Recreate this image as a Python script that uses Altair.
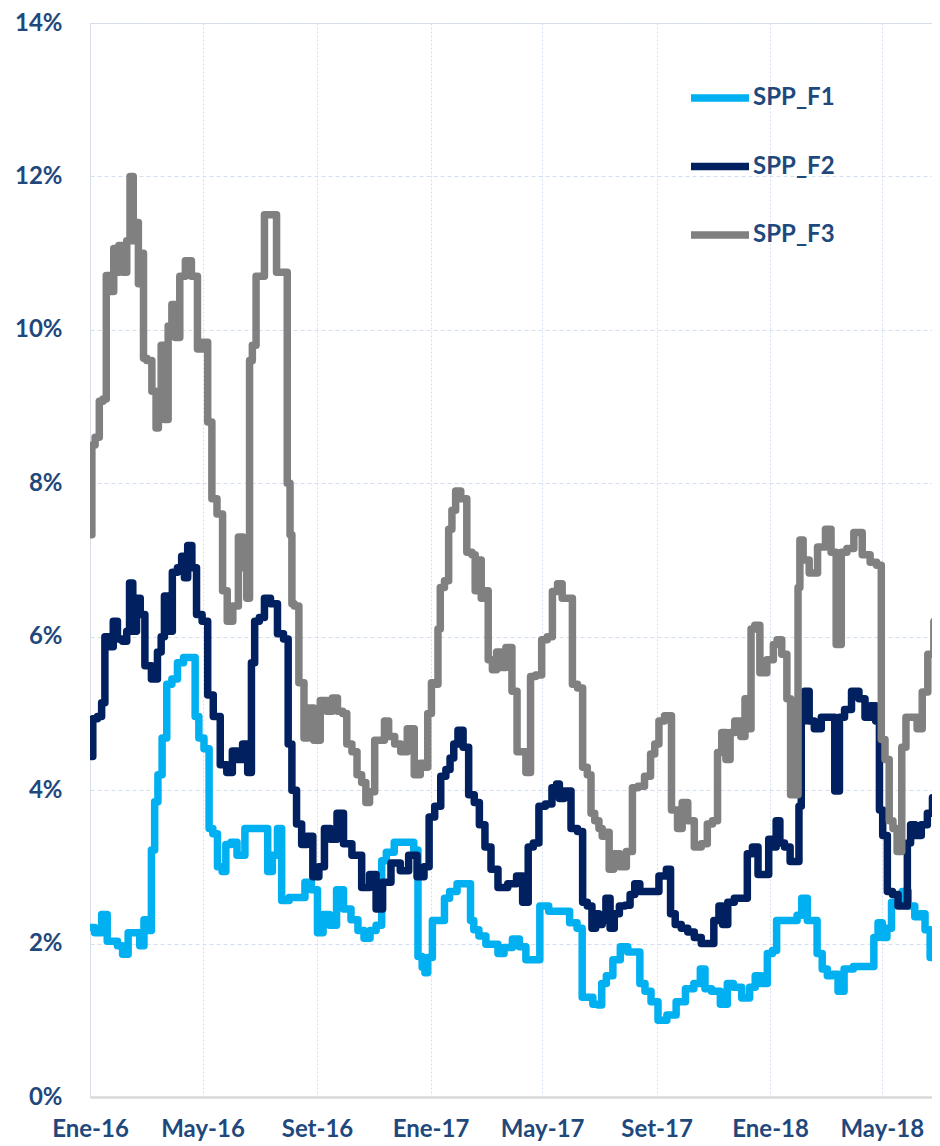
import altair as alt
import pandas as pd

# Series data: day offset from 2016-01-01 and value in %
f1_days = [1, 9, 16, 21, 27, 32, 38, 44, 51, 56, 60, 64, 68, 71, 75, 80, 85, 91, 97, 104, 111, 115, 119, 126, 130, 134, 140, 144, 148, 155, 161, 172, 183, 189, 193, 199, 204, 208, 220, 228, 234, 242, 247, 254, 261, 269, 276, 285, 291, 298, 304, 311, 316, 321, 333, 346, 350, 355, 359, 361, 365, 371, 378, 384, 389, 400, 408, 410, 415, 421, 430, 436, 441, 449, 459, 464, 473, 481, 486, 500, 511, 520, 527, 531, 537, 544, 548, 552, 558, 566, 574, 582, 589, 593, 600, 606, 615, 625, 635, 645, 653, 659, 663, 673, 682, 688, 695, 706, 712, 718, 725, 731, 736, 740, 748, 758, 762, 768, 774, 779, 784, 790, 795, 801, 807, 814, 827, 840, 845, 849, 854, 859, 864, 870, 876, 883, 890, 895, 900, 906, 911]
f1_vals = [2.21, 2.14, 2.38, 2.03, 2.03, 1.97, 1.86, 2.14, 2.14, 1.97, 2.31, 2.17, 3.22, 3.85, 4.2, 4.68, 5.38, 5.45, 5.66, 5.73, 5.73, 4.96, 4.68, 4.54, 3.5, 3.43, 3.0, 2.94, 3.29, 3.32, 3.15, 3.5, 3.5, 3.5, 2.94, 3.15, 3.5, 2.56, 2.6, 2.6, 2.8, 2.7, 2.14, 2.38, 2.24, 2.7, 2.45, 2.31, 2.17, 2.07, 2.17, 2.24, 3.08, 3.19, 3.32, 3.32, 3.22, 1.83, 1.69, 1.62, 1.82, 2.3, 2.3, 2.59, 2.68, 2.78, 2.78, 2.3, 2.18, 2.1, 1.99, 1.99, 1.87, 1.95, 2.06, 1.96, 1.79, 1.79, 2.49, 2.42, 2.42, 2.27, 2.2, 1.3, 1.3, 1.21, 1.2, 1.48, 1.58, 1.79, 1.96, 1.89, 1.89, 1.48, 1.38, 1.24, 1.0, 1.07, 1.24, 1.41, 1.48, 1.67, 1.41, 1.38, 1.21, 1.48, 1.43, 1.29, 1.43, 1.58, 1.48, 1.87, 1.91, 2.3, 2.3, 2.3, 2.37, 2.59, 2.3, 2.3, 1.87, 1.67, 1.58, 1.6, 1.38, 1.67, 1.7, 1.7, 2.08, 2.27, 2.08, 2.2, 2.54, 2.54, 2.68, 2.49, 2.35, 2.39, 2.18, 1.82, 2.06]

f2_days = [1, 5, 11, 14, 18, 23, 27, 32, 38, 41, 44, 48, 52, 56, 62, 70, 75, 78, 82, 86, 91, 97, 100, 103, 107, 112, 117, 124, 129, 136, 144, 150, 156, 161, 167, 172, 175, 179, 185, 190, 198, 205, 211, 215, 219, 225, 230, 236, 243, 249, 255, 262, 269, 276, 287, 297, 304, 311, 318, 329, 338, 347, 356, 362, 367, 374, 380, 385, 389, 393, 398, 404, 410, 416, 421, 428, 434, 443, 455, 462, 468, 474, 479, 486, 493, 500, 503, 506, 513, 521, 527, 532, 537, 542, 545, 549, 552, 557, 561, 566, 572, 578, 583, 588, 594, 606, 617, 622, 626, 632, 639, 646, 653, 661, 667, 674, 678, 682, 689, 696, 704, 709, 715, 721, 727, 732, 736, 739, 744, 749, 756, 761, 763, 766, 770, 776, 781, 791, 798, 803, 808, 814, 823, 830, 836, 842, 847, 850, 854, 860, 865, 872, 877, 880, 884, 890, 897, 903, 908, 913]
f2_vals = [4.44, 4.93, 4.96, 5.14, 6.0, 5.87, 6.2, 5.97, 5.94, 6.07, 6.7, 6.07, 6.5, 6.29, 5.62, 5.45, 5.8, 6.0, 6.53, 6.07, 6.84, 6.9, 7.05, 6.77, 7.19, 6.9, 6.29, 6.2, 5.24, 4.96, 4.33, 4.23, 4.51, 4.4, 4.6, 4.23, 5.66, 6.2, 6.25, 6.5, 6.43, 6.04, 5.97, 4.6, 4.0, 3.56, 3.29, 3.4, 2.87, 3.0, 3.5, 3.36, 3.7, 3.3, 3.15, 2.73, 2.9, 2.45, 2.8, 3.05, 2.95, 3.15, 2.87, 3.0, 3.65, 3.79, 4.18, 4.27, 4.42, 4.6, 4.78, 4.56, 3.94, 3.84, 3.55, 3.26, 2.97, 2.73, 2.78, 2.88, 2.54, 3.26, 3.31, 3.79, 3.82, 4.03, 4.08, 3.89, 3.99, 3.5, 3.46, 2.54, 2.49, 2.2, 2.39, 2.25, 2.3, 2.59, 2.2, 2.39, 2.49, 2.5, 2.64, 2.78, 2.68, 2.68, 2.88, 2.97, 2.39, 2.25, 2.2, 2.15, 2.08, 2.0, 2.0, 2.3, 2.49, 2.25, 2.54, 2.59, 2.59, 3.17, 3.26, 2.9, 2.9, 3.36, 3.26, 3.6, 3.31, 3.26, 3.07, 3.07, 3.79, 4.9, 5.29, 4.9, 4.8, 4.95, 4.95, 3.99, 4.95, 5.05, 5.29, 5.19, 4.95, 5.1, 4.9, 3.74, 3.41, 2.68, 2.64, 2.49, 2.49, 3.31, 3.55, 3.41, 3.55, 3.7, 3.9, 4.18]

f3_days = [1, 3, 8, 12, 16, 19, 24, 27, 30, 32, 38, 41, 45, 48, 51, 53, 56, 59, 63, 70, 72, 75, 78, 82, 86, 90, 93, 100, 105, 113, 118, 124, 129, 133, 140, 145, 150, 157, 162, 167, 170, 173, 176, 181, 185, 190, 198, 203, 210, 214, 216, 218, 221, 228, 232, 237, 244, 251, 258, 263, 269, 274, 278, 285, 289, 295, 298, 303, 309, 315, 318, 324, 331, 337, 345, 352, 358, 361, 365, 369, 373, 375, 378, 384, 387, 391, 395, 402, 408, 413, 415, 419, 422, 426, 430, 435, 439, 444, 450, 457, 461, 466, 471, 476, 482, 489, 494, 500, 505, 510, 516, 521, 527, 532, 537, 540, 545, 549, 552, 556, 560, 566, 573, 580, 586, 592, 600, 605, 609, 614, 621, 629, 634, 639, 646, 653, 661, 666, 672, 677, 681, 686, 690, 696, 703, 705, 709, 712, 717, 723, 732, 737, 740, 747, 751, 755, 760, 762, 764, 769, 777, 787, 794, 799, 805, 810, 817, 825, 835, 842, 849, 852, 857, 861, 865, 870, 875, 879, 886, 892, 897, 904, 910, 913]
f3_vals = [7.33, 8.5, 8.6, 9.07, 9.1, 10.71, 10.5, 11.06, 10.75, 11.1, 10.75, 11.16, 12.0, 11.16, 11.4, 10.6, 11.0, 9.63, 9.6, 9.2, 8.72, 9.1, 9.8, 8.83, 10.05, 10.33, 9.9, 10.7, 10.9, 10.7, 9.75, 9.84, 8.8, 7.8, 7.6, 6.6, 6.2, 6.4, 7.3, 6.9, 6.5, 9.6, 9.8, 10.7, 10.7, 11.5, 11.5, 10.75, 10.75, 8.0, 7.33, 6.43, 6.4, 5.4, 4.68, 5.07, 4.65, 5.17, 5.03, 5.2, 5.03, 5.0, 4.6, 4.5, 4.2, 4.1, 3.84, 3.98, 4.65, 4.65, 4.9, 4.7, 4.6, 4.5, 4.8, 4.2, 4.35, 4.3, 5.0, 5.4, 5.38, 6.1, 6.64, 6.73, 7.4, 7.65, 7.9, 7.8, 7.1, 7.07, 6.6, 7.0, 6.5, 6.6, 5.7, 5.57, 5.8, 5.6, 5.86, 5.29, 4.5, 4.5, 4.23, 5.48, 5.5, 5.96, 6.0, 6.59, 6.69, 6.5, 6.5, 5.38, 5.33, 4.3, 4.2, 3.7, 3.6, 3.5, 3.4, 3.45, 2.97, 3.17, 3.0, 3.2, 4.03, 4.05, 4.18, 4.47, 4.6, 4.9, 4.97, 3.74, 3.5, 3.84, 3.6, 3.26, 3.3, 3.56, 3.6, 4.49, 4.75, 4.4, 4.75, 4.9, 4.7, 5.19, 4.8, 6.1, 6.15, 5.53, 5.7, 5.9, 5.96, 5.77, 5.19, 3.94, 3.94, 6.64, 7.26, 7.0, 6.83, 7.17, 7.4, 7.1, 5.9, 7.1, 7.15, 7.36, 7.07, 6.97, 6.93, 4.66, 4.4, 3.6, 3.5, 3.2, 4.56, 4.95, 4.95, 4.8, 5.28, 5.77, 6.2, 6.5]

series_names = ["SPP_F1", "SPP_F2", "SPP_F3"]
series_colors = ["#00B0F0", "#002060", "#808080"]
y_ticks = [0, 2, 4, 6, 8, 10, 12, 14]
month_names = ["Ene", "Feb", "Mar", "Abr", "May", "Jun", "Jul", "Ago", "Set", "Oct", "Nov", "Dic"]
tick_dates = [(2016, 1), (2016, 5), (2016, 9), (2017, 1), (2017, 5), (2017, 9), (2018, 1), (2018, 5)]

start = pd.Timestamp("2016-01-01")
frames = []
for name, days, vals in [("SPP_F1", f1_days, f1_vals), ("SPP_F2", f2_days, f2_vals), ("SPP_F3", f3_days, f3_vals)]:
    frames.append(pd.DataFrame({
        "fecha": start + pd.to_timedelta(days, unit="D"),
        "valor": vals,
        "serie": name,
    }))
df = pd.concat(frames, ignore_index=True)
df["orden"] = df["serie"].map({n: i for i, n in enumerate(series_names)})

FONT = "Lato"
TXT = "#1F497D"
GRID = "#D3DEF0"

label_expr = "[" + ",".join("'%s'" % m for m in month_names) + "][month(datum.value)] + '-' + timeFormat(datum.value, '%y')"

x_enc = alt.X(
    "fecha:T",
    scale=alt.Scale(domain=[alt.DateTime(year=2016, month=1, date=1), alt.DateTime(year=2018, month=6, date=24)], nice=False),
    axis=alt.Axis(
        title=None,
        values=[alt.DateTime(year=y, month=m, date=1) for y, m in tick_dates],
        labelExpr=label_expr,
        labelFont=FONT, labelFontSize=24, labelFontWeight="bold", labelColor=TXT,
        labelPadding=20, ticks=False,
        domain=True, domainColor="#D9D9D9", domainWidth=2.5,
        grid=True, gridColor=GRID, gridDash=[2, 2], gridWidth=1,
        labelOverlap=False, labelFlush=False,
    ),
)
y_enc = alt.Y(
    "valor:Q",
    scale=alt.Scale(domain=[0, 14], nice=False),
    axis=alt.Axis(
        title=None, values=y_ticks,
        labelExpr="datum.value + '%'",
        labelFont=FONT, labelFontSize=24, labelFontWeight="bold", labelColor=TXT,
        labelPadding=28, ticks=False, domain=False,
        grid=True, gridColor=GRID, gridDash=[4, 3], gridWidth=1,
    ),
)

chart = alt.Chart(df).mark_line(
    strokeWidth=7.5, strokeJoin="round", strokeCap="round", clip=True, interpolate="step"
).encode(
    x=x_enc,
    y=y_enc,
    color=alt.Color(
        "serie:N",
        scale=alt.Scale(domain=series_names, range=series_colors),
        legend=alt.Legend(
            orient="none", legendX=597, legendY=42, title=None,
            symbolType="stroke", symbolSize=3364, symbolStrokeWidth=7.5,
            labelFont=FONT, labelFontSize=24, labelFontWeight="bold", labelColor=TXT,
            labelOffset=0, rowPadding=20.5, padding=0,
        ),
    ),
    order=alt.Order("orden:Q"),
).properties(
    width=842, height=1074,
    autosize=alt.AutoSizeParams(type="none"),
    padding={"left": 82, "top": 15, "right": 0, "bottom": 46},
).configure_view(stroke=None).configure(background="white")

chart.save("out.html", embed_options={"renderer": "svg", "actions": False})
